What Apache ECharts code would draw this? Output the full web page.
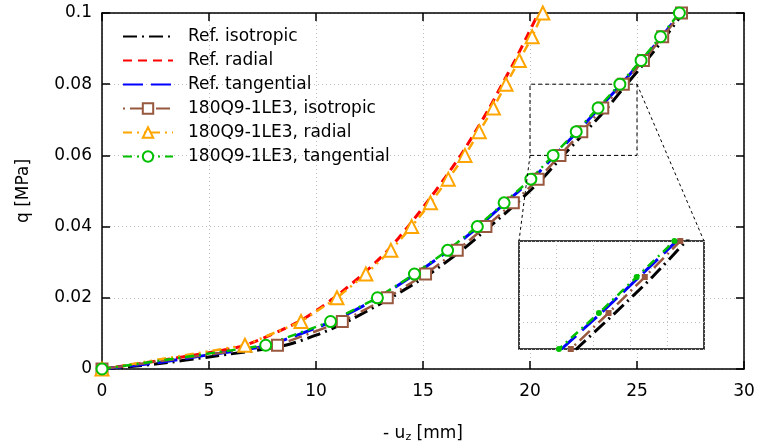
<!DOCTYPE html>
<html>
<head>
<meta charset="utf-8">
<script src="https://cdn.jsdelivr.net/npm/echarts@6/dist/echarts.min.js"></script>
<style>html,body{margin:0;padding:0;background:#fff}#c{width:761px;height:448px}</style>
</head>
<body>
<div id="c"></div>
<script>
// ---- data ----
const qLevels = [0, 0.00667, 0.01333, 0.02, 0.02667, 0.03333, 0.04, 0.04667, 0.05333, 0.06, 0.06667, 0.07333, 0.08, 0.08667, 0.09333, 0.1];
const isoU = [0, 8.2, 11.23, 13.33, 15.12, 16.6, 17.94, 19.22, 20.38, 21.4, 22.42, 23.4, 24.36, 25.3, 26.2, 27.08];
const radU = [0, 6.68, 9.3, 10.98, 12.33, 13.5, 14.47, 15.35, 16.18, 16.96, 17.63, 18.29, 18.88, 19.5, 20.1, 20.6];
const tanU = [0, 7.65, 10.68, 12.87, 14.6, 16.15, 17.54, 18.79, 20.04, 21.08, 22.16, 23.18, 24.2, 25.19, 26.1, 26.98];

const refIsoU = [0, 2.5, 5, 8.45, 10, 11.45, 13.5, 15.3, 16.8, 18.12, 19.4, 20.55, 21.55, 22.6, 23.6, 24.52, 25.45, 26.32, 27.15];
const refIsoQ = [0, 0.0014, 0.0034, 0.0065, 0.0095, 0.0133, 0.02, 0.0267, 0.0333, 0.04, 0.0467, 0.0533, 0.06, 0.0667, 0.0733, 0.08, 0.0867, 0.0933, 0.1];
const refRadU = [0, 2.5, 5, 6.7, 9.2, 10.85, 12.2, 13.35, 14.3, 15.17, 15.98, 16.76, 17.45, 18.1, 18.7, 19.3, 19.85, 20.4];
const refRadQ = [0, 0.0022, 0.0046, 0.0067, 0.0133, 0.02, 0.0267, 0.0333, 0.04, 0.0467, 0.0533, 0.06, 0.0667, 0.0733, 0.08, 0.0867, 0.0933, 0.1];
const refTanU = [0, 2.5, 5, 7.7, 10.72, 12.9, 14.65, 16.2, 17.6, 18.85, 20.1, 21.15, 22.22, 23.24, 24.26, 25.24, 26.15, 27.02];
const refTanQ = [0, 0.0017, 0.004, 0.0066, 0.0133, 0.02, 0.0267, 0.0333, 0.04, 0.0467, 0.0533, 0.06, 0.0667, 0.0733, 0.08, 0.0867, 0.0933, 0.1];

const seriesNames = ['Ref. isotropic', 'Ref. radial', 'Ref. tangential', '180Q9-1LE3, isotropic', '180Q9-1LE3, radial', '180Q9-1LE3, tangential'];
const xTicks = {min: 0, max: 30, step: 5};
const yTicks = {min: 0, max: 0.1, step: 0.02};
const zoomU = [20, 25];
const zoomQ = [0.06, 0.08];

// ---- build ----
const pair = (u, q) => u.map((v, i) => [v, q[i]]);
const FONT = 'DejaVu Sans';
const refStyles = [
  {color: '#000000', dash: [14, 5, 2, 5]},
  {color: '#ff0000', dash: [9, 6]},
  {color: '#0000ff', dash: [20, 8]}
];
const datStyles = [
  {color: '#98583f', dash: [2, 5, 14, 5], symbol: 'emptyRect', isym: 'rect', size: 11},
  {color: '#ffa500', dash: [9, 5, 2, 5, 2, 5], symbol: 'emptyTriangle', isym: 'triangle', size: 13},
  {color: '#00c000', dash: [9, 5, 2, 5], symbol: 'emptyCircle', isym: 'circle', size: 11}
];
const refData = [pair(refIsoU, refIsoQ), pair(refRadU, refRadQ), pair(refTanU, refTanQ)];
const datData = [pair(isoU, qLevels), pair(radU, qLevels), pair(tanU, qLevels)];

const series = [];
function addSeries(axisIdx, inset) {
  refData.forEach((d, i) => {
    const s = {
      name: seriesNames[i], type: 'line', data: d, xAxisIndex: axisIdx, yAxisIndex: axisIdx,
      symbol: 'none', smooth: 0.25, z: inset ? 7 : 2, silent: true,
      lineStyle: {color: refStyles[i].color, width: 3, type: refStyles[i].dash},
      itemStyle: {color: refStyles[i].color}
    };
    if (!inset && i === 0) {
      s.markArea = {
        silent: true,
        itemStyle: {color: 'rgba(0,0,0,0)', borderColor: '#000', borderWidth: 1, borderType: [4, 3]},
        data: [[{coord: [zoomU[0], zoomQ[0]]}, {coord: [zoomU[1], zoomQ[1]]}]]
      };
    }
    series.push(s);
  });
  datData.forEach((d, i) => {
    const st = datStyles[i];
    series.push({
      name: seriesNames[i + 3], type: 'line', data: d, xAxisIndex: axisIdx, yAxisIndex: axisIdx,
      symbol: inset ? st.isym : st.symbol, symbolSize: inset ? 6 : st.size, showAllSymbol: true,
      z: inset ? 8 : 3, silent: true,
      lineStyle: {color: st.color, width: 2.5, type: st.dash},
      itemStyle: {color: st.color, borderColor: st.color, borderWidth: inset ? 0 : 3}
    });
  });
}
addSeries(0, false);
addSeries(2, true);

const axisLine = {show: true, onZero: false, lineStyle: {color: '#000', width: 1.5}};
const tick = {show: true, inside: true, length: 8, lineStyle: {color: '#000', width: 1.5}};
const split = {show: true, lineStyle: {color: '#bdbdbd', width: 1, type: [1, 3]}};
const lab = {color: '#000', fontSize: 17, fontFamily: FONT};

const legendData = seriesNames.map((n, i) => i < 3 ? {name: n, itemStyle: {opacity: 0}} : {name: n});

const option = {
  animation: false,
  backgroundColor: '#fff',
  grid: [
    {left: 102, right: 17, top: 13, bottom: 79, containLabel: false},
    {left: 519, top: 241, width: 185, height: 108, show: true, backgroundColor: '#fff', borderColor: '#000', borderWidth: 1.5, z: 5}
  ],
  legend: {
    data: legendData, orient: 'vertical', left: 117, top: 23,
    itemWidth: 50, itemHeight: 13, itemGap: 7,
    textStyle: {fontSize: 17, fontFamily: FONT, color: '#000', padding: [0, 0, 0, 10]},
    selectedMode: false
  },
  xAxis: [
    {type: 'value', gridIndex: 0, min: xTicks.min, max: xTicks.max, interval: xTicks.step,
     axisLine, axisTick: tick, splitLine: split, axisLabel: Object.assign({margin: 14}, lab),
     name: '{n|- u}{s|z}{n| [mm]}', nameLocation: 'middle', nameGap: 55,
     nameTextStyle: {rich: {n: {fontSize: 17, fontFamily: FONT, color: '#000'}, s: {fontSize: 11, fontFamily: FONT, color: '#000', verticalAlign: 'bottom', padding: [8, 0, 0, 0]}}}},
    {type: 'value', gridIndex: 0, position: 'top', min: xTicks.min, max: xTicks.max, interval: xTicks.step,
     axisLine, axisTick: tick, splitLine: {show: false}, axisLabel: {show: false}},
    {type: 'value', gridIndex: 1, min: zoomU[0], max: zoomU[1], interval: 1,
     axisLine: {show: false}, axisTick: {show: false}, axisLabel: {show: false}, splitLine: split, z: 6}
  ],
  yAxis: [
    {type: 'value', gridIndex: 0, min: yTicks.min, max: yTicks.max, interval: yTicks.step,
     axisLine, axisTick: tick, splitLine: split, axisLabel: Object.assign({margin: 10}, lab),
     name: 'q [MPa]', nameLocation: 'middle', nameGap: 70, nameTextStyle: {fontSize: 17, fontFamily: FONT, color: '#000'}},
    {type: 'value', gridIndex: 0, position: 'right', min: yTicks.min, max: yTicks.max, interval: yTicks.step,
     axisLine, axisTick: tick, splitLine: {show: false}, axisLabel: {show: false}},
    {type: 'value', gridIndex: 1, min: zoomQ[0], max: zoomQ[1], interval: 0.005,
     axisLine: {show: false}, axisTick: {show: false}, axisLabel: {show: false}, splitLine: split, z: 6}
  ],
  series
};

const chart = echarts.init(document.getElementById('c'), null, {renderer: 'canvas'});
chart.setOption(option);

// connector lines from the zoom box to the inset
const a1 = chart.convertToPixel({gridIndex: 0}, [zoomU[0], zoomQ[0]]);
const a2 = chart.convertToPixel({gridIndex: 0}, [zoomU[1], zoomQ[1]]);
const b1 = chart.convertToPixel({gridIndex: 1}, [zoomU[0], zoomQ[1]]);
const b2 = chart.convertToPixel({gridIndex: 1}, [zoomU[1], zoomQ[1]]);
const dashLine = (p, q) => ({type: 'line', silent: true, z: 4,
  shape: {x1: p[0], y1: p[1], x2: q[0], y2: q[1]},
  style: {stroke: '#000', lineWidth: 1, lineDash: [3, 3]}});
chart.setOption({graphic: [dashLine(a1, b1), dashLine(a2, b2)]});
</script>
</body>
</html>
